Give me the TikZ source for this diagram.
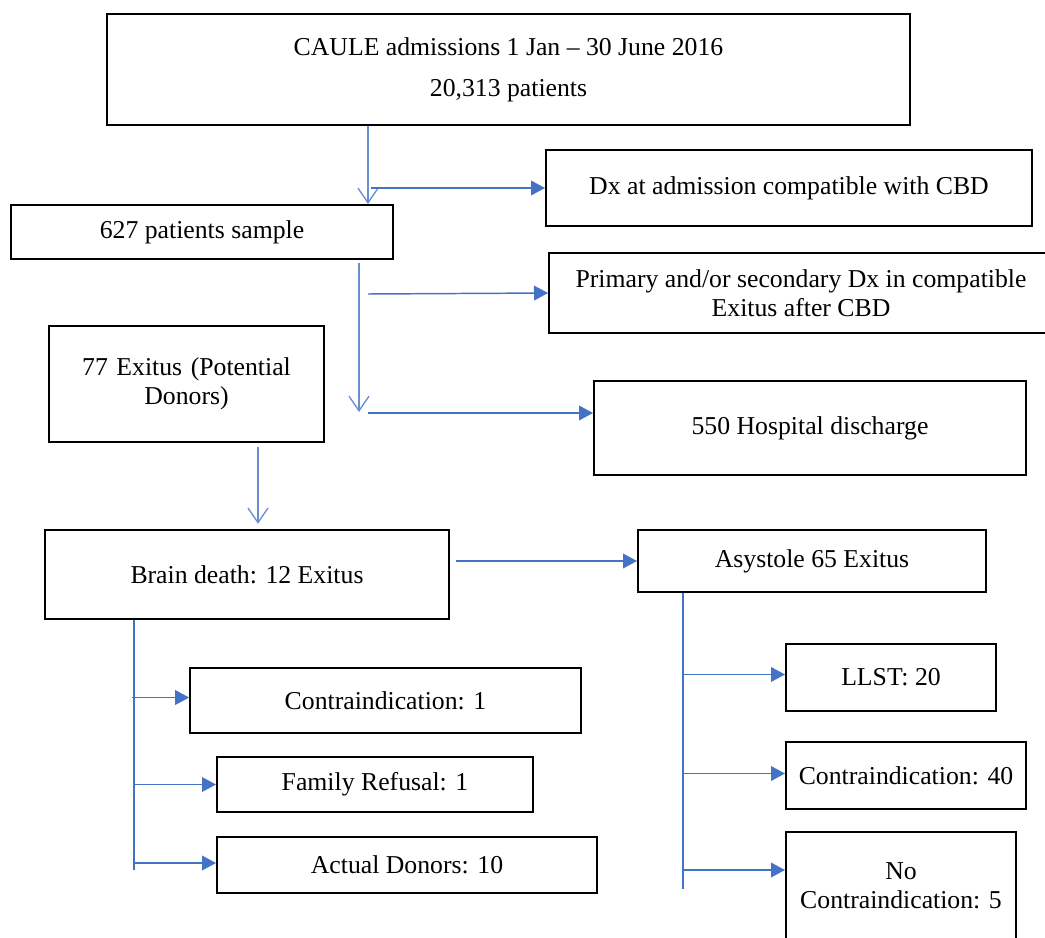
\documentclass[tikz,border=0pt]{standalone}
\usepackage{fontspec}
\setmainfont{Liberation Serif}
\usetikzlibrary{arrows.meta,positioning,calc}
\definecolor{arrblue}{HTML}{4472C4}

\begin{document}
\begin{tikzpicture}[
  x=0.75pt, y=-0.75pt,
  font=\fontsize{19.3}{22}\selectfont,
  box/.style={draw, line width=1.5pt, align=center, inner sep=0pt},
  flow/.style={-{Triangle[length=10.5pt, width=11pt]}, line width=1.1pt, arrblue},
  drop/.style={-{Straight Barb[length=11pt, width=15pt, line width=1pt]}, line width=0.9pt, arrblue!80},
  trunk/.style={line width=1.3pt, arrblue},
]
\useasboundingbox (0,0) rectangle (1045,938);

% ---- admissions and sample ------------------------------------------------
\node[box, minimum width=602pt, minimum height=83pt] (cau) at (508.5,69.5)
  {CAULE admissions 1 Jan -- 30 June 2016\\[9pt]20,313 patients};
\node[box, minimum width=364.5pt, minimum height=57pt] (dx) at (789,188)
  {Dx at admission compatible with CBD};
\node[box, minimum width=286.5pt, minimum height=40.5pt] (pat) at (202,232)
  {627 patients sample};
\node[box, minimum width=378pt, minimum height=60pt] (prim) at (801,293)
  {Primary and/or secondary Dx in compatible\\Exitus after CBD};

% ---- outcomes of the sample ------------------------------------------------
\node[box, minimum width=206pt, minimum height=87pt, text width=190pt] (pot) at (186.5,384)
  {77 Exitus (Potential\\Donors)};
\node[box, minimum width=324pt, minimum height=70.5pt] (dis) at (810,428)
  {550 Hospital discharge};

% ---- type of death -------------------------------------------------------------
\node[box, minimum width=303pt, minimum height=67pt] (bd) at (247,574.5)
  {Brain death: 12 Exitus};
\node[box, minimum width=261pt, minimum height=46.5pt] (asy) at (812,561)
  {Asystole 65 Exitus};

% ---- brain death branch ----------------------------------------------------------
\node[box, minimum width=293pt, minimum height=49pt] (ci1) at (385.5,700.5)
  {Contraindication: 1};
\node[box, minimum width=237pt, minimum height=41pt] (fr) at (375,784.5)
  {Family Refusal: 1};
\node[box, minimum width=285pt, minimum height=42pt] (ad) at (407,865)
  {Actual Donors: 10};

% ---- asystole branch ---------------------------------------------------------------
\node[box, minimum width=157.5pt, minimum height=50pt] (llst) at (891,677.5)
  {LLST: 20};
\node[box, minimum width=180pt, minimum height=50pt] (ci40) at (906,775.5)
  {Contraindication: 40};
\node[box, minimum width=172.5pt, minimum height=81pt] (noci) at (901,886)
  {No\\Contraindication: 5};

% ---- junctions -----------------------------------------------------------------------
\coordinate (ja) at (368,188);
\coordinate (jb) at (359,412);
\coordinate (jc) at (258,446);
\coordinate (jd) at (134,870);
\coordinate (je) at (683,889);

% ---- arrows ----------------------------------------------------------------------------
\draw[drop] (cau.south -| ja) -- (pat.north -| ja);
\draw[flow] ($(ja)+(3,0)$) -- (dx.west |- ja);
\draw[drop] ($(pat.south -| jb)+(0,3)$) -- (jb);
\draw[flow] ($(pat.south -| ja)+(0,34)$) -- (prim.west);
\draw[flow] ($(jb)+(9,1)$) -- (dis.west |- 0,413);
\draw[drop] ($(pot.south -| jc)+(0,4)$) -- ($(bd.north -| jc)+(0,-5)$);
\draw[flow] ($(bd.east |- asy.west)+(6,0)$) -- (asy.west);

% brain death bracket
\draw[trunk] (bd.south -| jd) -- (jd);
\draw[flow] (jd |- ci1.west) ++(-2,-3) -- ($(ci1.west)+(0,-3)$);
\draw[flow] (jd |- fr.west) -- (fr.west);
\draw[flow] (jd |- ad.west) ++(0,-2) -- ($(ad.west)+(0,-2)$);

% asystole bracket
\draw[trunk] (asy.south -| je) -- (je);
\draw[flow] (je |- llst.west) ++(0,-3) -- ($(llst.west)+(0,-3)$);
\draw[flow] (je |- ci40.west) ++(0,-2) -- ($(ci40.west)+(0,-2)$);
\draw[flow] (je |- noci.west) ++(0,-16) -- ($(noci.west)+(0,-16)$);

\end{tikzpicture}
\end{document}
